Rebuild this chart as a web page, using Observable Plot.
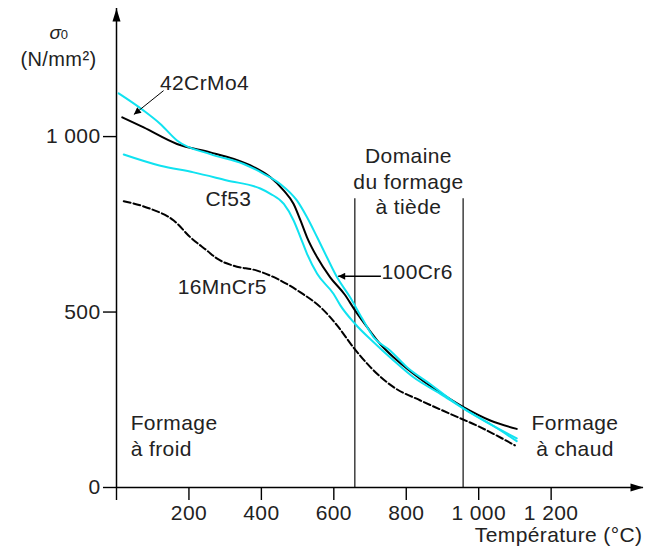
<!DOCTYPE html>
<html><head><meta charset="utf-8">
<script src="https://cdn.jsdelivr.net/npm/d3@7"></script>
<script src="https://cdn.jsdelivr.net/npm/@observablehq/plot@0.6"></script>
<style>body{margin:0;background:#fff} #chart{width:650px;height:549px}</style>
</head><body><div id="chart"></div>
<script>
// ---- data ----
const seriesNames = ["42CrMo4", "100Cr6", "Cf53", "16MnCr5"];
const temp42CrMo4 = [16, 75, 167, 259, 324, 379, 425, 462, 489, 508, 526, 554, 590, 630, 659, 692, 728, 765, 820, 885, 958, 1032, 1105];
const sigma42CrMo4 = [1055, 1026, 979, 955, 936, 913, 884, 846, 808, 761, 713, 656, 599, 550, 504, 457, 409, 371, 324, 276, 229, 191, 167];
const temp100Cr6 = [6, 75, 121, 167, 259, 351, 406, 452, 498, 526, 554, 581, 609, 645, 678, 710, 756, 802, 866, 940, 1013, 1105];
const sigma100Cr6 = [1123, 1074, 1036, 989, 950, 922, 894, 865, 818, 770, 713, 656, 599, 542, 482, 428, 390, 343, 295, 238, 191, 140];
const tempCf53 = [20, 121, 213, 305, 397, 425, 462, 489, 508, 526, 554, 599, 618, 659, 710, 765, 820, 894, 967, 1032, 1105];
const sigmaCf53 = [949, 917, 898, 875, 852, 837, 808, 761, 713, 666, 609, 552, 519, 466, 414, 362, 314, 267, 219, 181, 132];
const temp16MnCr5 = [20, 94, 158, 204, 250, 278, 323, 388, 443, 508, 563, 609, 655, 701, 765, 839, 921, 1004, 1100];
const sigma16MnCr5 = [816, 794, 761, 713, 675, 652, 632, 618, 595, 556, 514, 462, 398, 343, 286, 248, 210, 172, 120];
const xTicks = [0, 200, 400, 600, 800, 1000, 1200];
const yTicks = [0, 500, 1000];
const warmBounds = [658, 957];       // Domaine du formage à tiède
const warmTop = 823;
const xMax = 1455, yMax = 1365;

// ---- annotations ----
const curveLabels = [
  {text: "42CrMo4", x: 243, y: 1151},
  {text: "Cf53", x: 309, y: 820},
  {text: "16MnCr5", x: 292, y: 570},
  {text: "100Cr6", x: 830, y: 612}
];
const regionLabels = [
  {text: "Domaine\ndu formage\nà tiède", x: 806, y: 875, anchor: "middle"},
  {text: "Formage\nà froid", x: 39, y: 151, anchor: "start"},
  {text: "Formage\nà chaud", x: 1266, y: 151, anchor: "middle"}
];
const leaders = [
  {x1: 130, y1: 1131, x2: 48, y2: 1063, w: 1},
  {x1: 730, y1: 602, x2: 612, y2: 602, w: 1.5}
];

// ---- build table ----
const rows = [];
function addSeries(name, xs, ys) { xs.forEach((x, i) => rows.push({name, x, y: ys[i]})); }
addSeries("42CrMo4", temp42CrMo4, sigma42CrMo4);
addSeries("100Cr6", temp100Cr6, sigma100Cr6);
addSeries("Cf53", tempCf53, sigmaCf53);
addSeries("16MnCr5", temp16MnCr5, sigma16MnCr5);

const cyan = "#10e2f0";
const seriesStyle = {
  "42CrMo4": {stroke: "#000", dash: null},
  "100Cr6": {stroke: cyan, dash: null},
  "Cf53": {stroke: cyan, dash: null},
  "16MnCr5": {stroke: "#000", dash: "7,3"}
};
const fmt = d => d3.format(",")(d).replace(/,/g, " ");
const arrowSym = {draw(ctx) { ctx.moveTo(0, 0); ctx.lineTo(4, 13); ctx.lineTo(-4, 13); ctx.closePath(); }};
const txt = "#222";
const fs = 21;

const plot = Plot.plot({
  width: 650, height: 549,
  marginLeft: 116, marginRight: 7, marginTop: 8, marginBottom: 62,
  style: {fontFamily: "'Liberation Sans', Arial, sans-serif", fontSize: "21px", letterSpacing: "0.4px", color: "#111", background: "#fff", overflow: "visible"},
  x: {domain: [0, xMax], label: null},
  y: {domain: [0, yMax], label: null},
  marks: [
    Plot.ruleX(warmBounds, {y1: 0, y2: warmTop, stroke: "#222", strokeWidth: 1.3}),
    Plot.axisX({ticks: xTicks, tickSize: 13, tickPadding: 5, tickFormat: d => d === 0 ? "" : fmt(d), stroke: "#000", strokeWidth: 1.4, fill: txt, fontSize: fs}),
    Plot.axisY({ticks: yTicks, tickSize: 13, tickPadding: 3, tickFormat: fmt, stroke: "#000", strokeWidth: 1.4, fill: txt, fontSize: fs}),
    Plot.ruleY([0], {x1: 0, x2: xMax, stroke: "#000", strokeWidth: 1.5}),
    Plot.ruleX([0], {y1: 0, y2: yMax, stroke: "#000", strokeWidth: 1.5}),
    Plot.dot([{x: 0, y: yMax, a: 0}, {x: xMax, y: 0, a: 90}], {x: "x", y: "y", rotate: "a", symbol: arrowSym, fill: "#000", stroke: "none"}),
    ...seriesNames.map(n => Plot.line(rows.filter(r => r.name === n), {
      x: "x", y: "y", curve: "monotone-x",
      stroke: seriesStyle[n].stroke, strokeWidth: 2, strokeDasharray: seriesStyle[n].dash
    })),
    Plot.link(leaders, {x1: "x1", y1: "y1", x2: "x2", y2: "y2", stroke: "#000", strokeWidth: "w"}),
    Plot.text(curveLabels, {x: "x", y: "y", text: "text", textAnchor: "middle", fill: txt, fontSize: fs}),
    Plot.text(regionLabels.filter(d => d.anchor === "middle"), {x: "x", y: "y", text: "text", textAnchor: "middle", lineAnchor: "middle", lineHeight: 1.22, fill: txt, fontSize: fs}),
    Plot.text(regionLabels.filter(d => d.anchor === "start"), {x: "x", y: "y", text: "text", textAnchor: "start", lineAnchor: "middle", lineHeight: 1.22, fill: txt, fontSize: fs}),
    Plot.text(["σ"], {frameAnchor: "top-left", dx: -61, dy: 17, fontStyle: "italic", fill: txt, fontSize: 19, textAnchor: "middle"}),
    Plot.text(["0"], {frameAnchor: "top-left", dx: -52, dy: 21, fill: txt, fontSize: 13, textAnchor: "middle"}),
    Plot.text(["(N/mm²)"], {frameAnchor: "top-left", dx: -58, dy: 43, fill: txt, fontSize: 20, textAnchor: "middle"}),
    Plot.text(["Température (°C)"], {frameAnchor: "bottom-right", dx: -1, dy: 54, fill: txt, fontSize: fs, textAnchor: "end"})
  ]
});

// filled arrowheads for the leader lines
const svg = d3.select(plot);
const m = svg.append("defs").append("marker").attr("id", "fa")
  .attr("viewBox", "0 0 10 10").attr("refX", 10).attr("refY", 5)
  .attr("markerWidth", 10).attr("markerHeight", 7).attr("markerUnits", "userSpaceOnUse").attr("orient", "auto");
m.append("path").attr("d", "M0,0L10,5L0,10Z").attr("fill", "#000");
svg.selectAll('g[aria-label="link"] path').attr("marker-end", "url(#fa)");

document.getElementById("chart").appendChild(plot);
</script>
</body></html>
